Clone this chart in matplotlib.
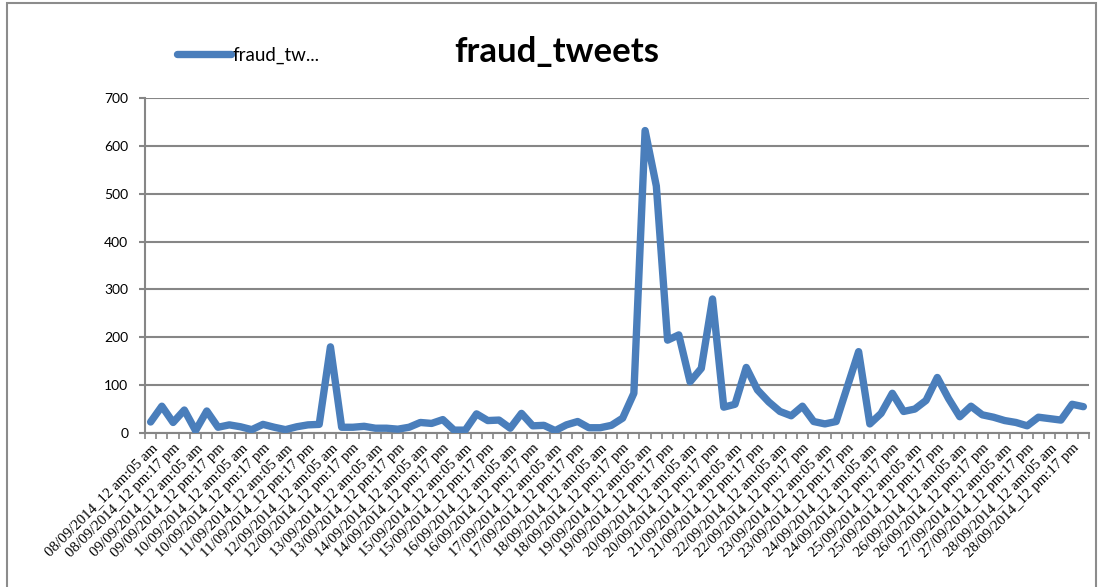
import matplotlib
matplotlib.use("Agg")
import matplotlib.pyplot as plt
from matplotlib.patches import Rectangle

days = [f"{d:02d}/09/2014" for d in range(8, 29)]
halves = ["12 am:05 am", "12 pm:17 pm"]
tick_labels = [f"{d}_{h}" for d in days for h in halves]

# 84 points, 4 per day (two per labelled half-day)
fraud_tweets = [
    23, 56, 22, 48, 5, 46, 12, 17, 13, 7, 18, 12, 7, 13, 17, 18,
    180, 12, 12, 14, 10, 10, 8, 12, 22, 20, 28, 6, 6, 40, 26, 27,
    10, 41, 15, 16, 5, 17, 24, 11, 11, 16, 31, 83, 632, 516, 194, 205,
    107, 135, 280, 54, 60, 137, 90, 65, 45, 36, 56, 24, 19, 24, 97, 170,
    19, 41, 83, 45, 50, 68, 116, 72, 34, 56, 38, 33, 26, 22, 15, 33,
    30, 27, 60, 55,
]

blue = '#4A7EBB'
grey = '#868686'

fig = plt.figure(figsize=(11.01, 5.87), dpi=100)
ax = fig.add_axes([145 / 1101, 1 - 433 / 587, 944 / 1101, 335 / 587])

x = list(range(len(fraud_tweets)))
ax.plot(x, fraud_tweets, color=blue, lw=5.3, solid_joinstyle='round',
        solid_capstyle='round', label='fraud_tw...', zorder=3)

ax.set_xlim(-0.5, len(fraud_tweets) - 0.5)
ax.set_ylim(0, 700)
ax.set_yticks(range(0, 701, 100))
ax.yaxis.grid(True, color=grey, lw=1.5)
ax.set_axisbelow(True)

for s in ['top', 'right']:
    ax.spines[s].set_visible(False)
for s in ['left', 'bottom']:
    ax.spines[s].set_color(grey)
    ax.spines[s].set_linewidth(1.5)

# minor ticks at category boundaries, labels every other category
ax.set_xticks([i - 0.5 for i in range(len(fraud_tweets) + 1)], minor=True)
ax.set_xticks(x[::2])
ax.set_xticklabels(tick_labels, rotation=45, ha='right', rotation_mode='anchor',
                   family='Liberation Serif', fontsize=10.7)
ax.tick_params(axis='x', which='major', length=0, pad=6)
ax.tick_params(axis='x', which='minor', length=4, color=grey, width=1.2)
ax.tick_params(axis='y', length=4, color=grey, width=1.5, labelsize=10, pad=8)
for t in ax.get_yticklabels():
    t.set_family('Lato')

fig.text(557 / 1101, 1 - 52 / 587, 'fraud_tweets', ha='center', va='center',
         fontsize=25, fontweight='bold', family='Lato')

fig.legend(loc='center left', bbox_to_anchor=(160 / 1101, 1 - 55 / 587),
           frameon=False, handlelength=2.9, handletextpad=0.05,
           prop={'family': 'Lato', 'size': 13.5})

fig.add_artist(Rectangle((7 / 1101, -0.01), 1089 / 1101, 1 - 3 / 587 + 0.01,
                         transform=fig.transFigure, fill=False,
                         edgecolor='#8c8c8c', lw=1.5))

fig.savefig('out.png', dpi=100)
